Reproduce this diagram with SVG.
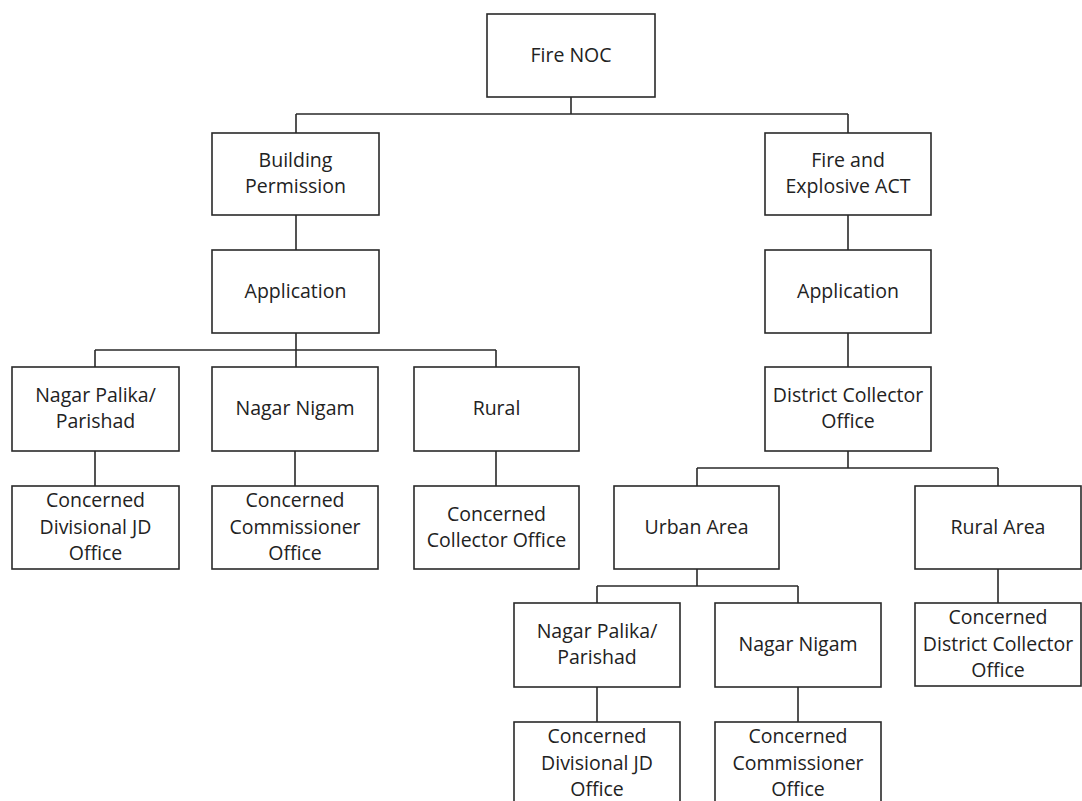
<svg xmlns="http://www.w3.org/2000/svg" width="1082" height="801" viewBox="0 0 1082 801">
<style>
.box{fill:#fff;stroke:#2a2a2a;stroke-width:1.6}
.c{fill:none;stroke:#2a2a2a;stroke-width:1.6}
text{font-family:"Open Sans","Noto Sans","DejaVu Sans",sans-serif;font-size:19.5px;fill:#222;text-anchor:middle}
</style>
<rect width="1082" height="801" fill="#fff"/>
<g id="connectors">
<path class="c" d="M571,97V114M296,114H848M296,114V133M848,114V133"/>
<path class="c" d="M296,215V250M296,333V367M95,350H496M95,350V367M496,350V367"/>
<path class="c" d="M95,451V486M295,451V486M496,451V486"/>
<path class="c" d="M848,215V250M848,333V367M848,451V468M697,468H998M697,468V486M998,468V486"/>
<path class="c" d="M697,569V586M597,586H798M597,586V603M798,586V603M998,569V603"/>
<path class="c" d="M597,687V722M798,687V722"/>
</g>
<g id="fire-noc"><rect class="box" x="487" y="14" width="168" height="83"/><text x="571" y="62">Fire NOC</text></g>
<g id="building-permission"><rect class="box" x="212" y="133" width="167" height="82"/><text x="295.5" y="167">Building</text><text x="295.5" y="193">Permission</text></g>
<g id="application-left"><rect class="box" x="212" y="250" width="167" height="83"/><text x="295.5" y="298">Application</text></g>
<g id="nagar-palika-left"><rect class="box" x="12" y="367" width="167" height="84"/><text x="95.5" y="402">Nagar Palika/</text><text x="95.5" y="428">Parishad</text></g>
<g id="nagar-nigam-left"><rect class="box" x="212" y="367" width="166" height="84"/><text x="295" y="415">Nagar Nigam</text></g>
<g id="rural"><rect class="box" x="414" y="367" width="165" height="84"/><text x="496.5" y="415">Rural</text></g>
<g id="divisional-jd-left"><rect class="box" x="12" y="486" width="167" height="83"/><text x="95.5" y="507">Concerned</text><text x="95.5" y="534">Divisional JD</text><text x="95.5" y="560">Office</text></g>
<g id="commissioner-left"><rect class="box" x="212" y="486" width="166" height="83"/><text x="295" y="507">Concerned</text><text x="295" y="534">Commissioner</text><text x="295" y="560">Office</text></g>
<g id="collector-office"><rect class="box" x="414" y="486" width="165" height="83"/><text x="496.5" y="521">Concerned</text><text x="496.5" y="547">Collector Office</text></g>
<g id="fire-explosive"><rect class="box" x="765" y="133" width="166" height="82"/><text x="848" y="167">Fire and</text><text x="848" y="193">Explosive ACT</text></g>
<g id="application-right"><rect class="box" x="765" y="250" width="166" height="83"/><text x="848" y="298">Application</text></g>
<g id="district-collector"><rect class="box" x="765" y="367" width="166" height="84"/><text x="848" y="402">District Collector</text><text x="848" y="428">Office</text></g>
<g id="urban-area"><rect class="box" x="614" y="486" width="165" height="83"/><text x="696.5" y="534">Urban Area</text></g>
<g id="rural-area"><rect class="box" x="915" y="486" width="166" height="83"/><text x="998" y="534">Rural Area</text></g>
<g id="nagar-palika-right"><rect class="box" x="514" y="603" width="166" height="84"/><text x="597" y="638">Nagar Palika/</text><text x="597" y="664">Parishad</text></g>
<g id="nagar-nigam-right"><rect class="box" x="715" y="603" width="166" height="84"/><text x="798" y="651">Nagar Nigam</text></g>
<g id="district-collector-office"><rect class="box" x="915" y="603" width="166" height="83"/><text x="998" y="624">Concerned</text><text x="998" y="651">District Collector</text><text x="998" y="677">Office</text></g>
<g id="divisional-jd-right"><rect class="box" x="514" y="722" width="166" height="84"/><text x="597" y="743">Concerned</text><text x="597" y="770">Divisional JD</text><text x="597" y="796">Office</text></g>
<g id="commissioner-right"><rect class="box" x="715" y="722" width="166" height="84"/><text x="798" y="743">Concerned</text><text x="798" y="770">Commissioner</text><text x="798" y="796">Office</text></g>
</svg>
